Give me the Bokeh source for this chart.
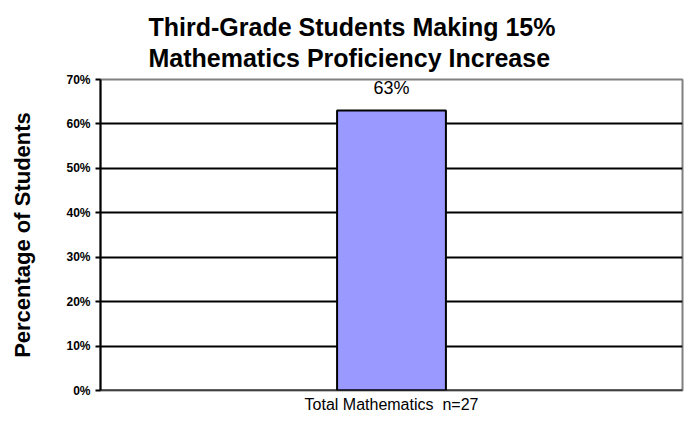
from bokeh.plotting import figure
from bokeh.models import (ColumnDataSource, Range1d, FactorRange, FixedTicker,
                          PrintfTickFormatter, LabelSet, Span, Title)
from bokeh.core.properties import value
from bokeh.embed import file_html
from bokeh.resources import INLINE

# ---- data ----
categories = ["Total Mathematics\u00a0 n=27"]
values = [63]
y_ticks = [0, 10, 20, 30, 40, 50, 60, 70]
grid_ticks = [0, 10, 20, 30, 40, 50, 60]
title_lines = ["Third-Grade Students Making 15%", "Mathematics Proficiency Increase"]
y_label = "Percentage of Students"
value_labels = [f"{v}%" for v in values]

FONT = "Liberation Sans"

source = ColumnDataSource(data=dict(cat=categories, val=values, lab=value_labels))

p = figure(width=684, height=421, output_backend="svg", toolbar_location=None,
           x_range=FactorRange(factors=categories, range_padding=0),
           y_range=Range1d(0, 70),
           min_border_left=100, min_border_right=2, min_border_top=79, min_border_bottom=31)

p.background_fill_color = "white"
p.border_fill_color = "white"
p.outline_line_color = "#808080"
p.outline_line_width = 2

# bars
p.vbar(x="cat", top="val", width=0.187, source=source,
       fill_color="#9999FF", line_color="black", line_width=2)

# value labels
p.add_layout(LabelSet(x="cat", y="val", text="lab", source=source, y_offset=17,
                      text_align="center", text_baseline="alphabetic",
                      text_font=value(FONT), text_font_size=value("18px"),
                      text_color="black"))

# x axis hidden; category name drawn as a title below the plot
p.xaxis.visible = False
p.xgrid.visible = False
p.add_layout(Title(text=categories[0], align="center", standoff=10,
                   vertical_align="top",
                   text_font=FONT, text_font_size="16px", text_font_style="normal",
                   text_color="black"), "below")

# y axis
yax = p.yaxis[0]
yax.ticker = FixedTicker(ticks=y_ticks)
yax.formatter = PrintfTickFormatter(format="%d%%")
yax.axis_line_color = "black"
yax.axis_line_width = 2
yax.major_tick_line_color = "black"
yax.major_tick_line_width = 2
yax.major_tick_in = 0
yax.major_tick_out = 5
yax.minor_tick_line_color = None
yax.major_label_standoff = 5
yax.major_label_text_font = FONT
yax.major_label_text_font_size = "12px"
yax.major_label_text_font_style = "bold"
yax.major_label_text_color = "black"
yax.axis_label = y_label
yax.axis_label_standoff = 28
yax.axis_label_text_font = FONT
yax.axis_label_text_font_size = "22px"
yax.axis_label_text_font_style = "bold"
yax.axis_label_text_color = "black"

yg = p.ygrid[0]
yg.ticker = FixedTicker(ticks=grid_ticks)
yg.grid_line_color = "black"
yg.grid_line_width = 2

p.add_layout(Span(location=0, dimension="width", line_color="black", line_width=2, level="overlay"))

# two-line title
p.add_layout(Title(text="\n".join(title_lines), align="left", offset=48, standoff=15,
                   text_line_height=1.12,
                   text_font=FONT, text_font_size="25px", text_font_style="bold",
                   text_color="black"), "above")

open("out.html", "w").write(file_html(p, INLINE))
